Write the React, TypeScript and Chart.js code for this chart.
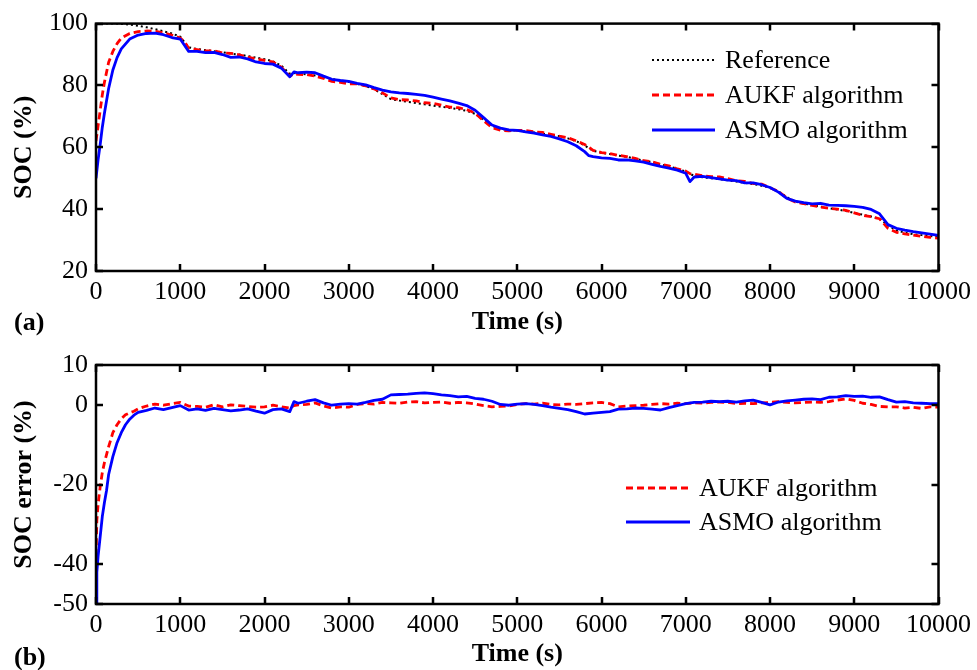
import React, { useEffect, useRef } from "react";
import { Chart, registerables } from "chart.js";

Chart.register(...registerables);

// ---------- data ----------
const timeSOC = [
  0, 25, 50, 75, 100, 150, 200, 250, 300, 400, 500, 600, 700, 800, 900, 1000, 1050, 1100,
  1200, 1300, 1400, 1500, 1600, 1700, 1800, 1900, 2000, 2100, 2200, 2300,
  2350,
  2400, 2500, 2600, 2700, 2800, 2900, 3000, 3100, 3200, 3300, 3400, 3500, 3600, 3700, 3800, 3900,
  4000, 4100, 4200, 4300, 4400, 4500, 4600, 4700, 4800, 4900, 5000, 5100, 5200, 5300, 5400, 5500,
  5600, 5700, 5800,
  5850,
  5900, 6000, 6100, 6200, 6300, 6400, 6500, 6600, 6700, 6800, 6900, 7000,
  7050,
  7100, 7200, 7300, 7400, 7500, 7600, 7700, 7800, 7900, 8000, 8100, 8200, 8300, 8400, 8500, 8600,
  8700, 8800, 8900, 9000, 9100, 9200, 9300, 9400, 9500, 9600, 9700, 9800, 9900, 10000,
];

const refSOC = [
  100, 100, 100, 100, 100, 100, 100, 100, 99.9, 99.7, 99.3, 98.8, 98.2, 97.5, 96.8, 95.8, 94.0, 92.3,
  91.8, 91.4, 91.1, 90.7, 90.3, 90.0, 89.5, 89.0, 88.5, 87.8, 86.4, 83.8,
  84.0,
  83.9, 83.6, 83.2, 82.7, 82.1, 81.6, 81.1, 80.5, 79.8, 78.8, 77.2, 75.6, 75.1, 74.7, 74.3, 73.9,
  73.5, 73.1, 72.7, 72.3, 71.8, 70.8, 68.9, 66.9, 65.9, 65.6, 65.4, 65.1, 64.8, 64.4, 64.1, 63.6,
  62.9, 62.0, 60.6,
  59.7,
  58.9, 58.2, 57.8, 57.3, 56.9, 56.3, 55.7, 55.2, 54.5, 53.9, 53.0, 52.2,
  51.4,
  50.8, 50.3, 50.0, 49.7, 49.3, 48.9, 48.5, 48.1, 47.6, 47.0, 45.8, 43.9, 42.5, 41.8, 41.3, 40.8,
  40.3, 39.9, 39.4, 38.8, 38.2, 37.6, 36.9, 34.8, 33.1, 32.4, 31.9, 31.6, 31.3, 31.1,
];

const aukfSOC = [
  62, 67, 72, 77, 81, 87.5, 91, 93.5, 95.3, 96.8, 97.4, 97.6, 97.5, 97.0, 96.3, 95.3, 94.2, 92.0,
  91.6, 91.2, 91.2, 90.5, 90.4, 89.9, 89.2, 88.6, 88.1, 87.6, 85.9, 83.0,
  83.8,
  83.6, 83.5, 83.0, 82.3, 81.3, 81.0, 80.5, 80.5, 79.9, 78.9, 77.6, 76.0, 75.4, 75.3, 75.0, 74.4,
  74.2, 73.6, 73.0, 72.8, 72.2, 71.1, 68.6, 66.4, 65.5, 65.3, 65.5, 65.4, 65.0, 64.8, 64.2, 63.6,
  63.1, 62.1, 60.9,
  60.1,
  59.0, 58.3, 58.0, 57.4, 57.0, 56.4, 55.7, 55.3, 54.5, 54.0, 53.0, 52.3,
  51.5,
  51.3, 50.8, 50.5, 50.4, 49.9, 49.2, 49.0, 48.3, 48.1, 46.9, 45.7, 43.6, 42.3, 41.8, 41.2, 40.7,
  40.3, 40.0, 39.6, 38.8, 38.0, 37.6, 36.9, 33.8, 32.5, 32.0, 31.6, 31.2, 30.9, 30.6,
];

const asmoSOC = [
  50, 56, 61, 66.5, 71, 79, 85, 89, 91.8, 95, 96.3, 96.8, 96.9, 96.4, 95.5, 95.0, 93.0, 91.0,
  91.0, 90.6, 90.7, 90.0, 89.1, 89.2, 88.6, 87.6, 87.1, 86.9, 85.6, 82.8,
  84.4,
  84.1, 84.3, 84.1, 83.0, 82.0, 81.6, 81.3, 80.7, 80.2, 79.3, 78.5, 77.9, 77.6, 77.4, 77.1, 76.8,
  76.2, 75.6, 75.0, 74.3, 73.5, 72.0, 69.6, 67.2, 66.2, 65.6, 65.5, 65.0, 64.6, 64.0, 63.5, 62.7,
  61.8, 60.5, 58.6,
  57.3,
  57.0, 56.6, 56.4, 55.9, 55.9, 55.6, 55.2, 54.5, 53.8, 53.3, 52.6, 51.6,
  48.9,
  50.4, 50.6, 50.2, 49.8, 49.4, 49.2, 48.5, 48.5, 47.9, 47.0, 45.5, 43.5, 42.6, 42.1, 41.7, 41.9,
  41.3, 41.2, 41.1, 40.9, 40.6, 39.9, 38.5, 35.0, 33.8, 33.2, 32.7, 32.3, 31.9, 31.5,
];

const timeErr = [
  0, 10, 25, 50, 75, 100, 125, 150, 200, 250, 300, 350, 400, 450, 500,
  600, 700, 800, 900, 1000, 1100, 1200, 1300, 1400, 1500, 1600, 1700, 1800, 1900, 2000, 2100, 2200, 2300,
  2350,
  2400, 2500, 2600, 2700, 2800, 2900, 3000, 3100, 3200, 3300, 3400, 3500, 3600, 3700, 3800, 3900,
  4000, 4100, 4200, 4300, 4400, 4500, 4600, 4700, 4800, 4900, 5000, 5100, 5200, 5300, 5400, 5500,
  5600, 5700, 5800, 5900, 6000, 6100, 6200, 6300, 6400, 6500, 6600, 6700, 6800, 6900, 7000, 7100,
  7200, 7300, 7400, 7500, 7600, 7700, 7800, 7900, 8000, 8100, 8200, 8300, 8400, 8500, 8600, 8700,
  8800, 8900, 9000, 9100, 9200, 9300, 9400, 9500, 9600, 9700, 9800, 9900, 10000,
];

const aukfErr = [
  -38, -29, -25, -20.5, -17, -14.5, -12.5, -10.5, -7, -5, -3.5, -2.5, -2, -1.6, -1,
  -0.3, 0.2, -0.1, 0.3, 0.6, -0.3, -0.4, -0.6, 0.0, -0.5, 0.0, -0.2, -0.4, -0.6, -0.5, -0.1, -0.5, -0.8,
  -0.2,
  0.0, 0.1, 0.5, -0.3, -0.8, -0.5, -0.6, 0.1, 0.3, 0.2, 0.6, 0.5, 0.4, 0.7, 0.8, 0.5,
  0.6, 0.7, 0.4, 0.6, 0.5, 0.2, -0.2, -0.5, -0.4, -0.3, 0.1, 0.3, 0.2, 0.4, 0.1, 0.0,
  0.2, 0.1, 0.3, 0.5, 0.6, 0.3, -0.5, -0.3, -0.2, -0.1, 0.1, 0.3, 0.2, 0.4, 0.3, 0.5,
  0.4, 0.6, 0.7, 0.6, 0.3, 0.4, 0.3, 0.5, 0.6, 0.8, 0.6, 0.5, 0.6, 0.7, 0.6, 0.8,
  1.2, 1.5, 1.1, 0.4, 0.1, -0.4, -0.5, -0.5, -0.8, -0.6, -0.9, -0.5, -0.6,
];

const asmoErr = [
  -50, -42, -38, -33, -28, -24.5, -21.5, -17.5, -13, -9.5, -7, -5, -3.6, -2.6, -1.9,
  -1.4, -0.8, -1.2, -0.7, -0.2, -1.3, -1.0, -1.4, -0.9, -1.2, -1.5, -1.3, -1.0, -1.6, -2.1, -1.2, -1.0, -1.7,
  0.8,
  0.4, 0.9, 1.3, 0.5, -0.1, 0.2, 0.3, 0.2, 0.6, 1.1, 1.4, 2.5, 2.6, 2.7, 2.9, 3.0,
  2.8, 2.5, 2.3, 2.0, 2.1, 1.6, 1.4, 0.9, 0.1, -0.1, 0.2, 0.3, 0.1, -0.2, -0.6, -0.9,
  -1.2, -1.7, -2.3, -2.1, -1.9, -1.7, -1.1, -1.0, -0.8, -0.9, -1.1, -1.3, -0.7, -0.2, 0.3, 0.6,
  0.7, 0.9, 0.8, 0.9, 0.7, 1.0, 1.2, 0.6, 0.0, 0.7, 1.0, 1.2, 1.4, 1.5, 1.3, 1.9,
  2.0, 2.3, 2.1, 2.2, 1.9, 2.0, 1.3, 0.7, 0.8, 0.5, 0.4, 0.3, 0.3,
];

const timeTicks = [0, 1000, 2000, 3000, 4000, 5000, 6000, 7000, 8000, 9000, 10000];
const socTicks = [20, 40, 60, 80, 100];
const errTicks = [-50, -40, -20, 0, 10];

const seriesNames = ["Reference", "AUKF algorithm", "ASMO algorithm"];
const xTitle = "Time (s)";
const socTitle = "SOC (%)";
const errTitle = "SOC error (%)";

// ---------- styling ----------
const SERIF = "'Liberation Serif', 'Times New Roman', Times, serif";
const FS = 26;
const W = 977;

const toPts = (xs: number[], ys: number[]) => xs.map((x, i) => ({ x, y: ys[i] }));

const framePlugin = {
  id: "frame",
  afterDatasetsDraw(chart: any) {
    const { ctx, chartArea: a, scales } = chart;
    const tl = 7;
    ctx.save();
    ctx.strokeStyle = "#000";
    ctx.lineWidth = 2.5;
    ctx.beginPath();
    scales.x.ticks.forEach((t: any) => {
      const p = Math.round(scales.x.getPixelForValue(t.value));
      ctx.moveTo(p, a.bottom);
      ctx.lineTo(p, a.bottom - tl);
      ctx.moveTo(p, a.top);
      ctx.lineTo(p, a.top + tl);
    });
    scales.y.ticks.forEach((t: any) => {
      const p = Math.round(scales.y.getPixelForValue(t.value));
      ctx.moveTo(a.left, p);
      ctx.lineTo(a.left + tl, p);
      ctx.moveTo(a.right, p);
      ctx.lineTo(a.right - tl, p);
    });
    ctx.stroke();
    ctx.strokeRect(a.left, a.top, a.right - a.left, a.bottom - a.top);
    ctx.restore();
  },
};

const legendPlugin = {
  id: "boxLegend",
  afterDraw(chart: any, _args: any, opts: any) {
    const { ctx } = chart;
    ctx.save();
    ctx.font = `${FS}px ${SERIF}`;
    ctx.textBaseline = "middle";
    ctx.fillStyle = "#000";
    chart.data.datasets.forEach((ds: any, i: number) => {
      const y = opts.y + i * opts.gap;
      ctx.beginPath();
      ctx.strokeStyle = ds.borderColor;
      ctx.lineWidth = ds.borderWidth;
      ctx.setLineDash(ds.borderDash || []);
      ctx.moveTo(opts.x, y);
      ctx.lineTo(opts.x + opts.len, y);
      ctx.stroke();
      ctx.setLineDash([]);
      ctx.fillText(ds.label, opts.x + opts.len + opts.textGap, y + 1);
    });
    ctx.restore();
  },
};

const refStyle = { borderColor: "#000000", borderWidth: 2, borderDash: [2, 3], order: 2 };
const aukfStyle = { borderColor: "#ff0000", borderWidth: 2.8, borderDash: [7, 4], order: 1 };
const asmoStyle = { borderColor: "#0000ff", borderWidth: 2.8, borderDash: [] as number[], order: 0 };

function axisCommon(ticks: number[], min: number, max: number) {
  return {
    type: "linear" as const,
    min,
    max,
    grid: { display: false, drawTicks: false },
    border: { display: false },
    afterBuildTicks: (scale: any) => {
      scale.ticks = ticks.map((v) => ({ value: v }));
    },
    ticks: {
      color: "#000",
      font: { family: SERIF, size: FS },
      autoSkip: false,
      maxRotation: 0,
      callback: (v: any) => String(v),
    } as any,
  };
}

function makeConfig(kind: "soc" | "err"): any {
  const isSoc = kind === "soc";
  const datasets = isSoc
    ? [
        { label: seriesNames[0], data: toPts(timeSOC, refSOC), ...refStyle },
        { label: seriesNames[1], data: toPts(timeSOC, aukfSOC), ...aukfStyle },
        { label: seriesNames[2], data: toPts(timeSOC, asmoSOC), ...asmoStyle },
      ]
    : [
        { label: seriesNames[1], data: toPts(timeErr, aukfErr), ...aukfStyle },
        { label: seriesNames[2], data: toPts(timeErr, asmoErr), ...asmoStyle },
      ];
  const xAxis: any = axisCommon(timeTicks, 0, 10000);
  xAxis.ticks.padding = 6;
  xAxis.title = {
    display: true,
    text: xTitle,
    color: "#000",
    font: { family: SERIF, size: FS, weight: "bold" },
    padding: { top: 0, bottom: isSoc ? 2 : 0 },
  };
  xAxis.afterFit = (s: any) => {
    s.height = isSoc ? 69 : 66;
  };
  const yAxis: any = isSoc ? axisCommon(socTicks, 20, 100) : axisCommon(errTicks, -50, 10);
  yAxis.ticks.padding = 8;
  yAxis.title = {
    display: true,
    text: isSoc ? socTitle : errTitle,
    color: "#000",
    font: { family: SERIF, size: FS, weight: "bold" },
    padding: { top: 9, bottom: 0 },
  };
  yAxis.afterFit = (s: any) => {
    s.width = 96;
  };
  return {
    type: "line",
    data: {
      datasets: datasets.map((d) => ({
        ...d,
        pointRadius: 0,
        tension: 0,
        fill: false,
        borderJoinStyle: "round",
      })),
    },
    options: {
      responsive: false,
      animation: false,
      devicePixelRatio: 1,
      layout: { padding: { left: 0, right: W - 939, top: isSoc ? 23 : 25, bottom: 0 } },
      scales: { x: xAxis, y: yAxis },
      plugins: {
        legend: { display: false },
        tooltip: { enabled: false },
        boxLegend: isSoc
          ? { x: 652, y: 60, gap: 35, len: 63, textGap: 10 }
          : { x: 626, y: 148, gap: 34, len: 64, textGap: 9 },
      },
    },
    plugins: [framePlugin, legendPlugin],
  };
}

export default function App() {
  const topRef = useRef<HTMLCanvasElement | null>(null);
  const botRef = useRef<HTMLCanvasElement | null>(null);

  useEffect(() => {
    const c1 = new Chart(topRef.current as HTMLCanvasElement, makeConfig("soc"));
    const c2 = new Chart(botRef.current as HTMLCanvasElement, makeConfig("err"));
    return () => {
      c1.destroy();
      c2.destroy();
    };
  }, []);

  const panelLabel: React.CSSProperties = {
    position: "absolute",
    left: 14,
    fontFamily: SERIF,
    fontWeight: "bold",
    fontSize: FS,
    lineHeight: "30px",
    color: "#000",
  };

  return (
    <div style={{ position: "fixed", left: 0, top: 0, width: W, height: 670, background: "#fff" }}>
      <canvas ref={topRef} width={W} height={340} style={{ position: "absolute", left: 0, top: 0 }} />
      <canvas ref={botRef} width={W} height={330} style={{ position: "absolute", left: 0, top: 340 }} />
      <div style={{ ...panelLabel, top: 307 }}>(a)</div>
      <div style={{ ...panelLabel, top: 642 }}>(b)</div>
    </div>
  );
}
